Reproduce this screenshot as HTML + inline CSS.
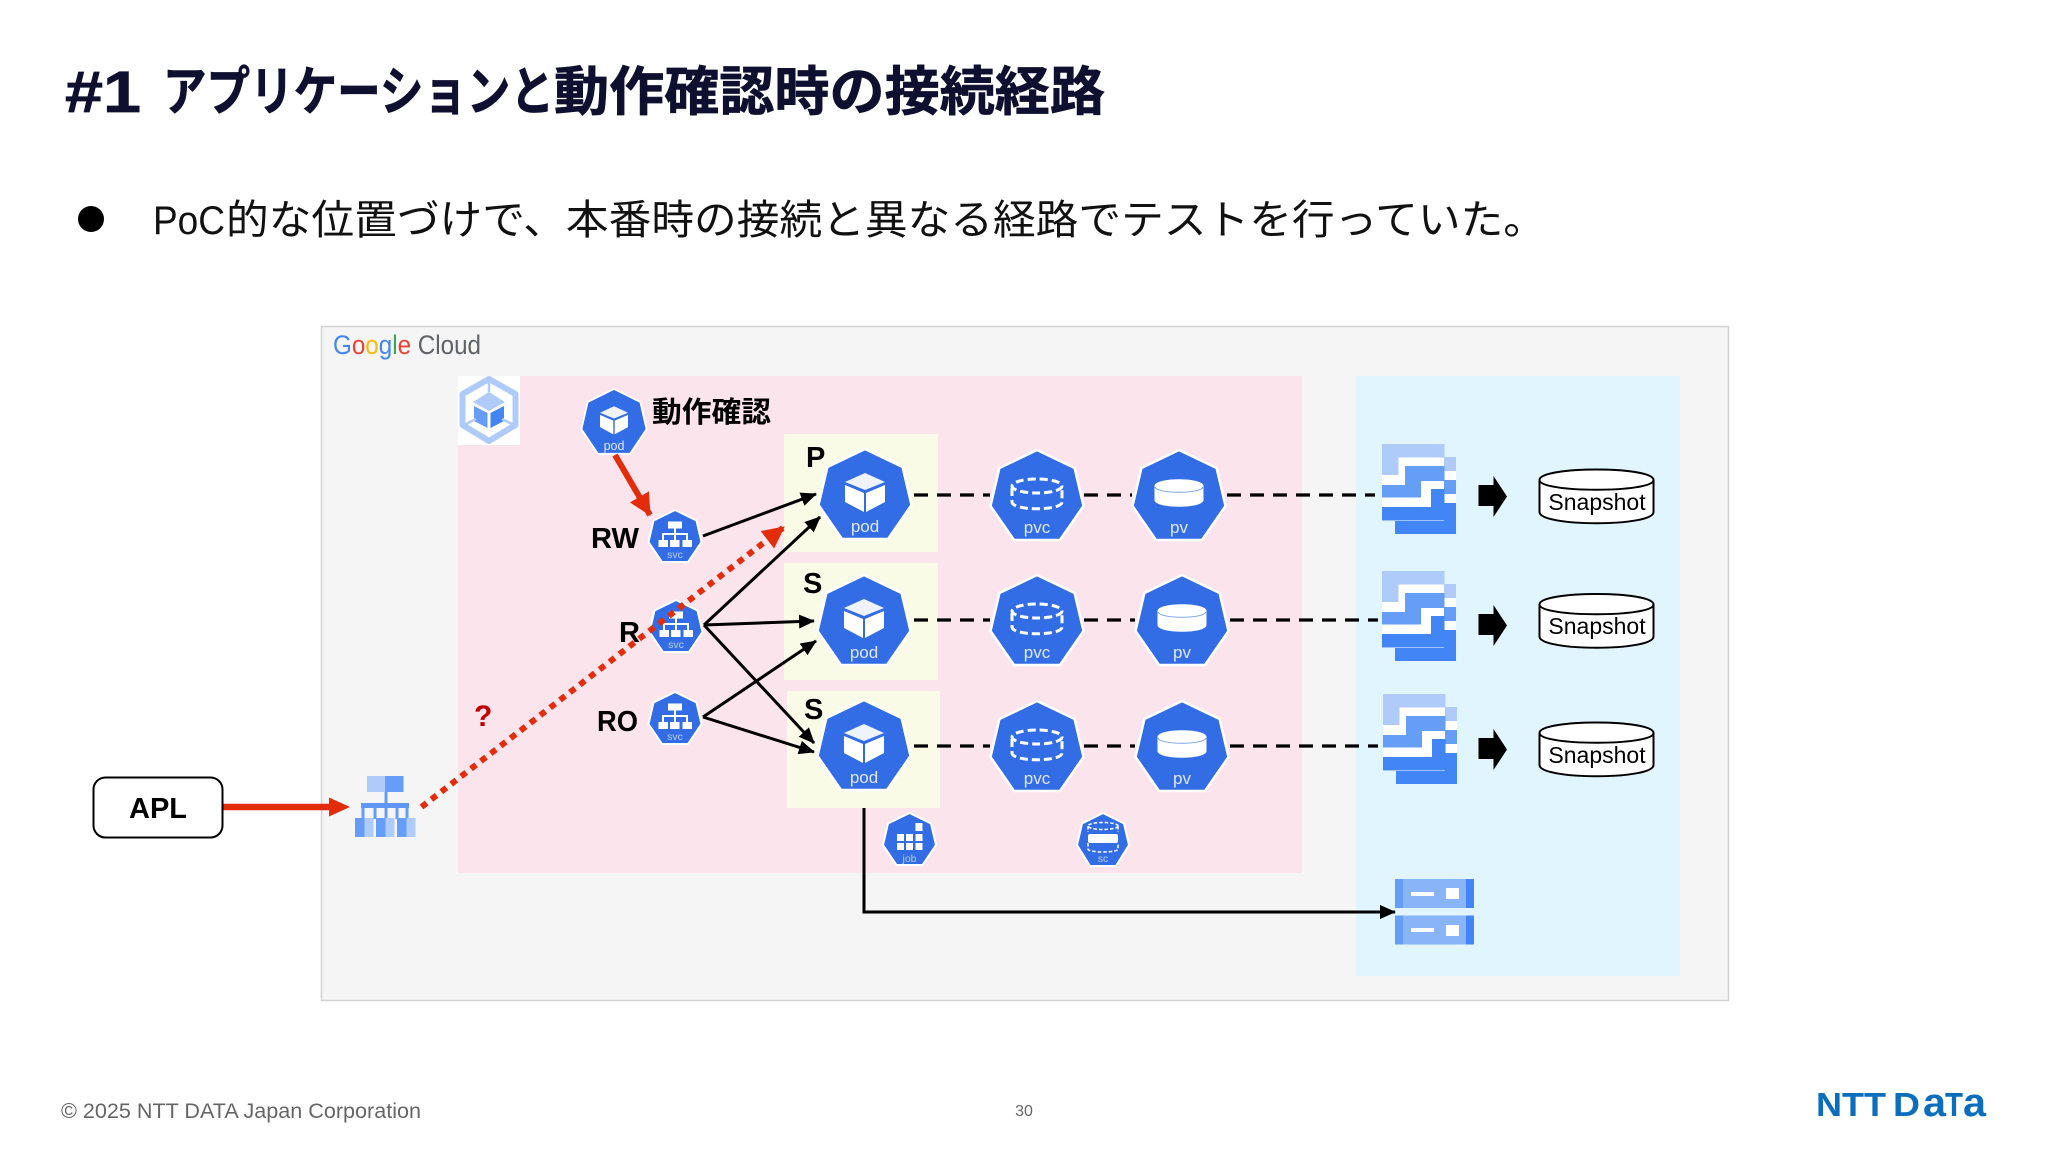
<!DOCTYPE html>
<html lang="ja">
<head>
<meta charset="utf-8">
<title>#1 アプリケーションと動作確認時の接続経路</title>
<style>
html,body{margin:0;padding:0;background:#fff;width:2048px;height:1152px;overflow:hidden}
svg{display:block}
text{font-family:"Liberation Sans","Noto Sans CJK JP",sans-serif}
.lab{font-weight:700;font-size:29px;fill:#000}
.wl{fill:#dfe8fb;font-size:17px;text-anchor:middle}
.ws{fill:#b9cdf5;font-size:10.5px;text-anchor:middle}
.snap{font-size:23px;fill:#000;text-anchor:middle}
</style>
</head>
<body>
<svg width="2048" height="1152" viewBox="0 0 2048 1152" xmlns="http://www.w3.org/2000/svg">
<defs>
  <marker id="ah" markerUnits="userSpaceOnUse" markerWidth="17" markerHeight="14" refX="15" refY="7" orient="auto"><path d="M0,0L16,7L0,14Z" fill="#000"/></marker>
  <marker id="rh" markerUnits="userSpaceOnUse" markerWidth="24" markerHeight="22" refX="21" refY="11" orient="auto"><path d="M0,0L22,11L0,22Z" fill="#e32d0a"/></marker>

  <path id="hept" d="M0,0L37.6,18L46.5,56L23,90L-23,90L-46.5,56L-37.6,18Z" fill="#326de6" stroke="#fff" stroke-width="2.5" stroke-linejoin="round"/>
  <g id="pod">
    <use href="#hept"/>
    <path d="M0,24L20,33L0,41L-20,33Z" fill="#fff" opacity=".92"/>
    <path d="M-20,36L-1,44V63L-20,53Z" fill="#fff"/>
    <path d="M20,36L1,44V63L20,53Z" fill="#fff"/>
  </g>
  <g id="pvc">
    <use href="#hept"/>
    <g fill="none" stroke="#fff" stroke-width="3" stroke-dasharray="8 4">
      <ellipse cx="0" cy="36" rx="25" ry="7"/>
      <path d="M-25,38V52C-25,61 25,61 25,52V38"/>
    </g>
  </g>
  <g id="pv">
    <use href="#hept"/>
    <path d="M-24.5,36C-24.5,27 24.5,27 24.5,36V50C24.5,59 -24.5,59 -24.5,50Z" fill="#fff"/>
    <path d="M-24,37C-22,44 22,44 24,37" fill="none" stroke="#7aa2ee" stroke-width="1"/>
  </g>
  <g id="svc">
    <path d="M0,0L21.5,10.500L26.500,32L13,52L-13,52L-26.500,32L-21.500,10.500Z" fill="#326de6" stroke="#fff" stroke-width="2" stroke-linejoin="round"/>
    <rect x="-7" y="11.500" width="14" height="7" fill="#fff"/>
    <path d="M0,18V30M-12,30V24H12V30" fill="none" stroke="#fff" stroke-width="2"/>
    <rect x="-16.500" y="30" width="9.500" height="7" fill="#fff"/>
    <rect x="-5" y="30" width="9.500" height="7" fill="#fff"/>
    <rect x="7.500" y="30" width="9.500" height="7" fill="#fff"/>
  </g>
  <g id="disk">
    <path d="M1382,444H1444.500V457H1456V534H1395V521H1382Z" fill="#fff"/>
    <path d="M1444,457H1456V471H1444Z" fill="#aecbfa"/>
    <path d="M1444,480H1456V494H1444Z" fill="#669df6"/>
    <path d="M1444,503H1456V534H1395V521H1444Z" fill="#4285f4"/>
    <path d="M1382,444H1444.500V457.500H1398.500V475H1382Z" fill="#aecbfa"/>
    <path d="M1405,466H1444.500V481H1421V497.500H1382V485H1405Z" fill="#669df6"/>
    <path d="M1431,489H1444.500V520.500H1382V507H1431Z" fill="#4285f4"/>
  </g>
  <g id="cyl">
    <path d="M1539.500,480C1539.500,466 1653.500,466 1653.500,480V512C1653.500,527 1539.500,527 1539.500,512Z" fill="#fff" stroke="#000" stroke-width="2"/>
    <path d="M1539.500,480C1539.500,493 1653.500,493 1653.500,480" fill="none" stroke="#000" stroke-width="2"/>
  </g>
  <path id="blk" d="M1478.500,485H1493.500V476L1507,496.500L1493.500,517V506H1478.500Z" fill="#000"/>
</defs>

<rect width="2048" height="1152" fill="#fff"/>

<!-- title -->
<g font-weight="700" fill="#0f1030" stroke="#0f1030" stroke-width=".7">
  <text x="65" y="112" font-size="58" textLength="76" lengthAdjust="spacingAndGlyphs">#1</text>
  <text x="163" y="110" font-size="53" textLength="391" lengthAdjust="spacingAndGlyphs">アプリケーションと</text>
  <text x="554" y="110" font-size="53" textLength="551" lengthAdjust="spacingAndGlyphs">動作確認時の接続経路</text>
</g>

<!-- bullet -->
<circle cx="91" cy="219" r="13" fill="#000"/>
<text x="153" y="234" font-size="40" fill="#111" textLength="72" lengthAdjust="spacingAndGlyphs">PoC</text>
<text x="226" y="234" font-size="41" fill="#111" textLength="1320" lengthAdjust="spacingAndGlyphs">的な位置づけで、本番時の接続と異なる経路でテストを行っていた。</text>

<!-- panels -->
<rect x="321.500" y="326.500" width="1407" height="674" fill="#f5f5f5" stroke="#d2d2d2" stroke-width="1.500"/>
<rect x="458" y="376" width="844" height="497" fill="#fce4ec"/>
<rect x="1356" y="376" width="324" height="600" fill="#e1f5fe"/>
<rect x="784" y="434" width="154" height="118" fill="#f9fbe7"/>
<rect x="784" y="563" width="154" height="117" fill="#f9fbe7"/>
<rect x="787" y="691" width="153" height="117" fill="#f9fbe7"/>

<!-- Google Cloud -->
<text x="333" y="354" font-size="27" textLength="148" lengthAdjust="spacingAndGlyphs"><tspan fill="#4285f4">G</tspan><tspan fill="#ea4335">o</tspan><tspan fill="#fbbc05">o</tspan><tspan fill="#4285f4">g</tspan><tspan fill="#34a853">l</tspan><tspan fill="#ea4335">e</tspan><tspan fill="#5f6368"> Cloud</tspan></text>

<!-- GKE icon -->
<rect x="458" y="376" width="62" height="69" fill="#fff"/>
<path d="M489,379L515.500,394V425L489,441L462.500,425V394Z" fill="#fff" stroke="#aecbfa" stroke-width="6" stroke-linejoin="round"/>
<path d="M489,392L505,402L489,411L473,402Z" fill="#aecbfa"/>
<path d="M474,406L487.500,413V428L474,421Z" fill="#669df6"/>
<path d="M504,406L490.500,413V428L504,421Z" fill="#4285f4"/>
<path d="M489,380V392M464,425L476,419M514,425L502,419" stroke="#aecbfa" stroke-width="2.500" fill="none"/>

<!-- top verification pod -->
<use href="#pod" transform="translate(614,389) scale(.7,.72)"/>
<text x="614" y="450" fill="#dfe8fb" font-size="12.500" text-anchor="middle">pod</text>
<text x="652" y="422" font-size="29" font-weight="700" fill="#000" textLength="119" lengthAdjust="spacingAndGlyphs">動作確認</text>

<!-- yellow box labels -->
<text class="lab" x="806" y="467">P</text>
<text class="lab" x="803" y="593">S</text>
<text class="lab" x="804" y="719">S</text>

<!-- big pods -->
<use href="#pod" transform="translate(865,449)"/>
<use href="#pod" transform="translate(864,575)"/>
<use href="#pod" transform="translate(864,700)"/>
<text class="wl" x="865" y="532">pod</text>
<text class="wl" x="864" y="658">pod</text>
<text class="wl" x="864" y="783">pod</text>

<!-- dashed -->
<g stroke="#000" stroke-width="3.200" stroke-dasharray="14 9" fill="none">
  <path d="M914,495H990M1084,495H1132M1227,495H1375"/>
  <path d="M914,620H990M1084,620H1135M1230,620H1378"/>
  <path d="M914,746H990M1084,746H1135M1230,746H1378"/>
</g>

<!-- pvc / pv -->
<use href="#pvc" transform="translate(1037,450)"/>
<use href="#pvc" transform="translate(1037,575)"/>
<use href="#pvc" transform="translate(1037,701)"/>
<use href="#pv" transform="translate(1179,450)"/>
<use href="#pv" transform="translate(1182,575)"/>
<use href="#pv" transform="translate(1182,701)"/>
<text class="wl" x="1037" y="533">pvc</text>
<text class="wl" x="1037" y="658">pvc</text>
<text class="wl" x="1037" y="784">pvc</text>
<text class="wl" x="1179" y="533">pv</text>
<text class="wl" x="1182" y="658">pv</text>
<text class="wl" x="1182" y="784">pv</text>

<!-- svc -->
<use href="#svc" transform="translate(675,510)"/>
<use href="#svc" transform="translate(676,600)"/>
<use href="#svc" transform="translate(675,692)"/>
<text class="ws" x="675" y="558">svc</text>
<text class="ws" x="676" y="648">svc</text>
<text class="ws" x="675" y="740">svc</text>
<text class="lab" x="591" y="548" textLength="48" lengthAdjust="spacingAndGlyphs">RW</text>
<text class="lab" x="619" y="642">R</text>
<text class="lab" x="597" y="731" textLength="41" lengthAdjust="spacingAndGlyphs">RO</text>

<!-- job -->
<path d="M909.500,813L931,823.500L936,845L922.500,865H896.500L883,845L888,823.500Z" fill="#326de6" stroke="#fff" stroke-width="2" stroke-linejoin="round"/>
<g fill="#fff">
  <rect x="915.500" y="823" width="7" height="8"/>
  <rect x="897" y="834" width="7" height="7"/><rect x="906" y="834" width="7" height="7"/><rect x="915.500" y="834" width="7" height="7"/>
  <rect x="897" y="843" width="7" height="7"/><rect x="906" y="843" width="7" height="7"/><rect x="915.500" y="843" width="7" height="7"/>
</g>
<text class="ws" x="909.500" y="862">job</text>

<!-- sc -->
<path d="M1103,813L1124,823.500L1129,845L1116,866H1090L1077,845L1082,823.500Z" fill="#326de6" stroke="#fff" stroke-width="2" stroke-linejoin="round"/>
<g fill="none" stroke="#fff" stroke-width="1.500" stroke-dasharray="3.500 2">
  <ellipse cx="1103" cy="826" rx="15" ry="3.500"/>
  <path d="M1088,826V832M1118,826V832"/>
  <path d="M1088,843V849C1088,853 1118,853 1118,849V843"/>
</g>
<rect x="1088" y="834" width="30" height="9" rx="2" fill="#fff"/>
<text class="ws" x="1103" y="862">sc</text>

<!-- storage stacks -->
<use href="#disk"/>
<use href="#disk" transform="translate(0,127)"/>
<use href="#disk" transform="translate(1,250)"/>

<!-- block arrows -->
<use href="#blk"/>
<use href="#blk" transform="translate(0,129)"/>
<use href="#blk" transform="translate(0,253)"/>

<!-- snapshots -->
<use href="#cyl"/>
<use href="#cyl" transform="translate(0,124.500)"/>
<use href="#cyl" transform="translate(0,253)"/>
<text class="snap" x="1597" y="510">Snapshot</text>
<text class="snap" x="1597" y="634">Snapshot</text>
<text class="snap" x="1597" y="763">Snapshot</text>

<!-- filestore -->
<rect x="1395" y="879" width="79" height="29" fill="#8ab4f8"/>
<rect x="1395" y="879" width="8" height="29" fill="#669df6"/>
<rect x="1466" y="879" width="8" height="29" fill="#4285f4"/>
<rect x="1411" y="892" width="23" height="4" fill="#fff"/>
<rect x="1446" y="888" width="13" height="11" fill="#fff"/>
<rect x="1395" y="915.500" width="79" height="29" fill="#8ab4f8"/>
<rect x="1395" y="915.500" width="8" height="29" fill="#669df6"/>
<rect x="1466" y="915.500" width="8" height="29" fill="#4285f4"/>
<rect x="1411" y="928" width="23" height="4" fill="#fff"/>
<rect x="1446" y="925" width="13" height="11" fill="#fff"/>

<!-- black connectors -->
<g stroke="#000" stroke-width="3" fill="none" marker-end="url(#ah)">
  <path d="M703,536L816,494"/>
  <path d="M704,625L820,517"/>
  <path d="M704,625L814,621"/>
  <path d="M704,625L814,743"/>
  <path d="M703,717L816,641"/>
  <path d="M703,717L814,752"/>
  <path d="M864,808V912H1395"/>
</g>

<!-- red -->
<path d="M615,455L650,515" stroke="#e32d0a" stroke-width="6" fill="none" marker-end="url(#rh)"/>
<path d="M421.500,807L784,527" stroke="#e32d0a" stroke-width="6" stroke-dasharray="6.500 6" fill="none" marker-end="url(#rh)"/>
<path d="M222,807H332" stroke="#e32d0a" stroke-width="6.500" fill="none"/>
<path d="M329,797.500L350,807L329,816.500Z" fill="#e32d0a"/>
<text x="474" y="726" font-size="30" font-weight="700" fill="#c00000">?</text>

<!-- APL -->
<rect x="93.500" y="777.500" width="129" height="60" rx="12" fill="#fff" stroke="#000" stroke-width="2"/>
<text x="158" y="818" font-size="29" font-weight="700" text-anchor="middle" fill="#000">APL</text>

<!-- LB icon -->
<rect x="367" y="776" width="18" height="16" fill="#aecbfa"/>
<rect x="385" y="776" width="18.500" height="16" fill="#669df6"/>
<path d="M386,792V819M363,819V805.500H407V819M375,805V819M397,805V819" fill="none" stroke="#669df6" stroke-width="3"/>
<rect x="361" y="803" width="48" height="5" fill="#5e97f6"/>
<g>
  <rect x="355" y="818" width="9.500" height="19" fill="#669df6"/><rect x="364.500" y="818" width="9" height="19" fill="#aecbfa"/>
  <rect x="376" y="818" width="9.500" height="19" fill="#669df6"/><rect x="385.500" y="818" width="9" height="19" fill="#aecbfa"/>
  <rect x="397" y="818" width="9.500" height="19" fill="#669df6"/><rect x="406.500" y="818" width="9" height="19" fill="#aecbfa"/>
</g>

<!-- footer -->
<text x="61" y="1118" font-size="21" fill="#666" textLength="360" lengthAdjust="spacingAndGlyphs">© 2025 NTT DATA Japan Corporation</text>
<text x="1024" y="1116" font-size="16" fill="#666" text-anchor="middle">30</text>

<!-- logo -->
<g fill="#0a6ebd" font-weight="700" style="font-family:'DejaVu Sans',sans-serif">
  <text x="1816" y="1116" font-size="33" textLength="70" lengthAdjust="spacingAndGlyphs">NTT</text>
  <text x="1893" y="1116" font-size="33" textLength="27" lengthAdjust="spacingAndGlyphs">D</text>
  <text x="1923" y="1116" font-size="40" textLength="23" lengthAdjust="spacingAndGlyphs">a</text>
  <text x="1945" y="1116" font-size="33" textLength="18" lengthAdjust="spacingAndGlyphs">T</text>
  <text x="1963" y="1116" font-size="40" textLength="23" lengthAdjust="spacingAndGlyphs">a</text>
</g>
</svg>
</body>
</html>
